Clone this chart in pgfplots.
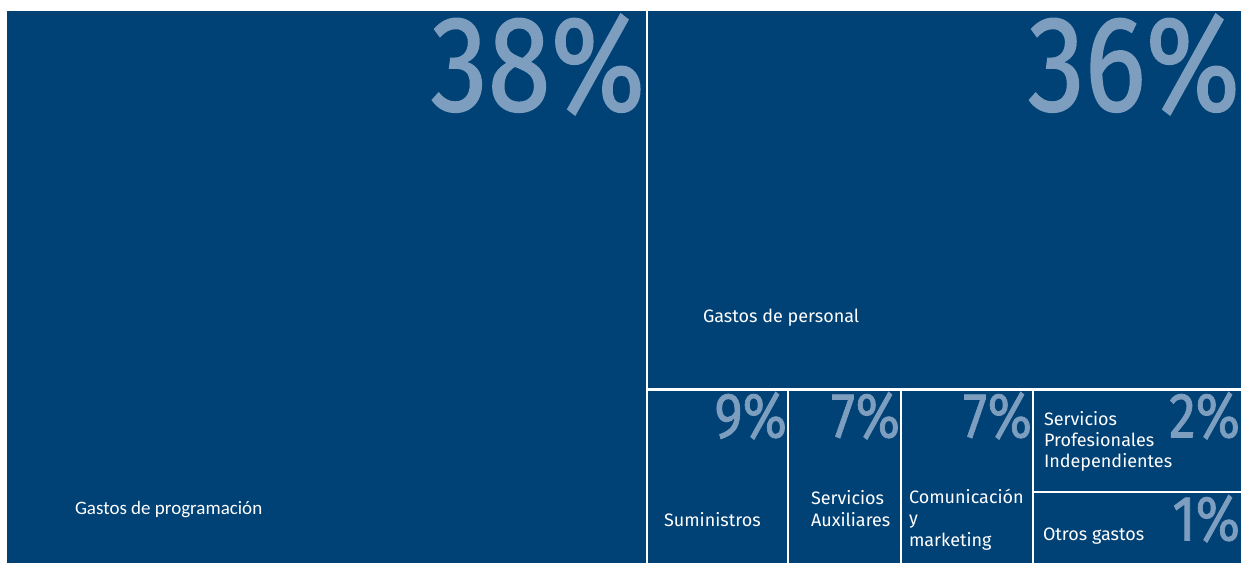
\documentclass[border=0pt]{standalone}
\usepackage{pgfplots}
\pgfplotsset{compat=1.18}
\usepackage{fontspec}
\setmainfont{Fira Sans}
\newfontfamily\calib{Carlito}
\newfontfamily\pctfont[FakeBold=1.2]{Fira Sans}

\definecolor{tmblue}{RGB}{0,65,118}
\definecolor{tmpct}{RGB}{125,158,190}

% big percentage figures, condensed a little to look like DIN
\newcommand{\bigpct}[1]{\scalebox{0.84}[1]{\pctfont\fontsize{136}{136}\selectfont #1}}
\newcommand{\smallpct}[1]{\scalebox{0.84}[1]{\pctfont\fontsize{64}{64}\selectfont #1}}
\newcommand{\lbl}{\fontsize{18}{21}\selectfont}

\begin{document}
\begin{tikzpicture}
\begin{axis}[
    scale only axis,
    width=1241pt, height=562pt,
    xmin=0, xmax=1241,
    ymin=0, ymax=562,
    y dir=reverse,
    hide axis,
    clip=true,
]
% white page
\addplot[fill=white, draw=none] coordinates {(0,0) (1241,0) (1241,562) (0,562)} --cycle;

% treemap boxes, one per cost item (x0,y0)-(x1,y1) in picture units
\pgfplotsset{tmbox/.style={fill=tmblue, draw=white, line width=2.6pt}}
% Gastos de programacion 38%
\addplot[tmbox] coordinates {(6,10) (647,10) (647,570) (6,570)} --cycle;
% Gastos de personal 36%
\addplot[tmbox] coordinates {(647,10) (1250,10) (1250,389.5) (647,389.5)} --cycle;
% Suministros 9%
\addplot[tmbox] coordinates {(647,389.5) (788,389.5) (788,570) (647,570)} --cycle;
% Servicios Auxiliares 7%
\addplot[tmbox] coordinates {(788,389.5) (901,389.5) (901,570) (788,570)} --cycle;
% Comunicacion y marketing 7%
\addplot[tmbox] coordinates {(901,389.5) (1033,389.5) (1033,570) (901,570)} --cycle;
% Servicios Profesionales Independientes 2%
\addplot[tmbox] coordinates {(1033,389.5) (1250,389.5) (1250,492) (1033,492)} --cycle;
% Otros gastos 1%
\addplot[tmbox] coordinates {(1033,492) (1250,492) (1250,570) (1033,570)} --cycle;

% percentages
\begin{scope}[every node/.style={inner sep=0pt, outer sep=0pt, text=tmpct, anchor=north east}]
\node at (axis cs:645,14) {\bigpct{38\%}};
\node at (axis cs:1240,14) {\bigpct{36\%}};
\node at (axis cs:787,392) {\smallpct{9\%}};
\node at (axis cs:900,392) {\smallpct{7\%}};
\node at (axis cs:1032,392) {\smallpct{7\%}};
\node at (axis cs:1240,392) {\smallpct{2\%}};
\node at (axis cs:1240,495) {\smallpct{1\%}};
\end{scope}

% labels
\begin{scope}[every node/.style={inner sep=0pt, outer sep=0pt, text=white, anchor=base west}]
\node[font=\calib\fontsize{19}{22}\selectfont] at (axis cs:75,514) {Gastos de programación};
\node[font=\lbl] at (axis cs:703,322) {Gastos de personal};
\node[font=\lbl] at (axis cs:664,526) {Suministros};
\node[font=\lbl] at (axis cs:811,504) {Servicios};
\node[font=\lbl] at (axis cs:811,526) {Auxiliares};
\node[font=\lbl] at (axis cs:909,503) {Comunicación};
\node[font=\lbl] at (axis cs:909,524) {y};
\node[font=\lbl] at (axis cs:909,546) {marketing};
\node[font=\lbl] at (axis cs:1044,425) {Servicios};
\node[font=\lbl] at (axis cs:1044,446) {Profesionales};
\node[font=\lbl] at (axis cs:1044,467) {Independientes};
\node[font=\lbl] at (axis cs:1043,540) {Otros gastos};
\end{scope}
\end{axis}
\end{tikzpicture}
\end{document}
